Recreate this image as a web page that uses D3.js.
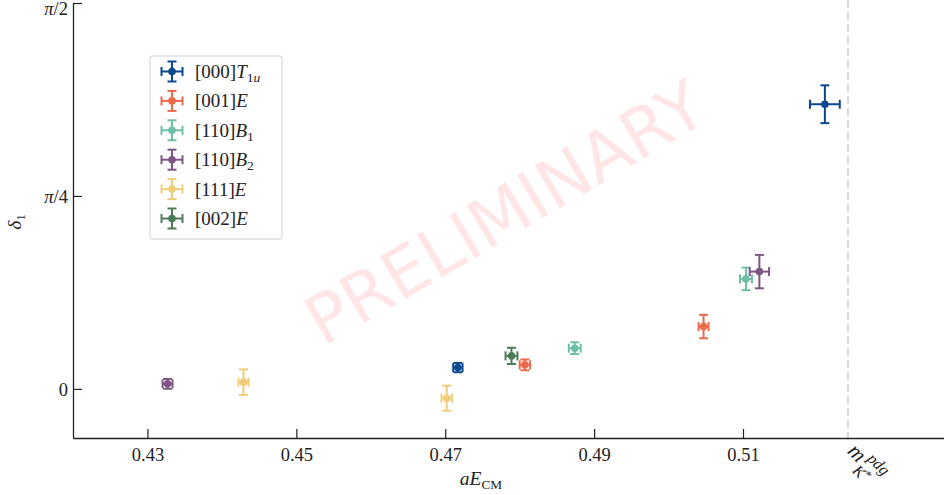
<!DOCTYPE html>
<html><head><meta charset="utf-8">
<script src="https://cdn.jsdelivr.net/npm/d3@7"></script>
<style>
body{margin:0;background:#fff;}
svg{display:block;font-family:"Liberation Serif","DejaVu Serif",serif;}
</style></head>
<body>
<svg id="c" width="944" height="495"></svg>
<script>
// ---- data ----
const seriesIrrep = ["[000]", "[001]", "[110]", "[110]", "[111]", "[002]"];
const seriesSym = [["T", "1", "u"], ["E", "", ""], ["B", "1", ""], ["B", "2", ""], ["E", "", ""], ["E", "", ""]];
const seriesColors = ["#0b4890", "#ec6a4c", "#6fbea7", "#7e5684", "#f0cd7a", "#4c7c56"];
const aE = [[0.5210, 0.4717], [0.5047, 0.4807], [0.5104, 0.4874], [0.5122, 0.4327], [0.4429, 0.4702], [0.4789]];
const aEerr = [[0.0020, 0.00063], [0.00067, 0.0007], [0.0008, 0.0008], [0.0013, 0.00067], [0.00067, 0.0007], [0.0008]];
const delta = [[1.1587, 0.0867], [0.2536, 0.0977], [0.4477, 0.1656], [0.4774, 0.0204], [0.0273, -0.0379], [0.1343]];
const deltaErr = [[0.077, 0.019], [0.0476, 0.022], [0.046, 0.024], [0.068, 0.02], [0.052, 0.051], [0.033]];
const xTicks = [0.43, 0.45, 0.47, 0.49, 0.51];
const yTicks = [0, Math.PI / 4, Math.PI / 2];
const yTickLabels = [["", "0"], ["π", "/4"], ["π", "/2"]];
const mKpdg = 0.5241;

// ---- layout ----
const svg = d3.select("#c");
const x = d3.scaleLinear().domain([0.42, 0.537]).range([73, 944]);
const y = d3.scaleLinear().domain([-0.2, Math.PI / 2]).range([438, 3]);
const axisColor = "#222";
const fs = 18.5;

// watermark
svg.append("text")
  .attr("transform", "translate(505,213) rotate(-30.5)")
  .attr("text-anchor", "middle").attr("dominant-baseline", "central")
  .style("font-family", "'DejaVu Sans',sans-serif").style("font-size", "68px")
  .attr("fill", "red").attr("fill-opacity", 0.1)
  .text("PRELIMINARY");

// dashed reference line
svg.append("line")
  .attr("x1", x(mKpdg)).attr("x2", x(mKpdg))
  .attr("y1", y.range()[1] - 3).attr("y2", y.range()[0])
  .attr("stroke", "#d9d9d9").attr("stroke-width", 2.2).attr("stroke-dasharray", "8,4");

// axes
const xAxis = d3.axisBottom(x).tickValues(xTicks).tickSizeInner(-9).tickSizeOuter(0).tickPadding(10)
  .tickFormat(d3.format(".2f"));
const gx = svg.append("g").attr("transform", `translate(0,${y.range()[0]})`).call(xAxis);
gx.select(".domain").attr("stroke", axisColor).attr("stroke-width", 1.3);
gx.selectAll(".tick line").attr("stroke", axisColor).attr("stroke-width", 1.2);
gx.selectAll(".tick text").style("font-family", "'Liberation Serif',serif").style("font-size", fs + "px").attr("fill", "#222");

const yAxis = d3.axisLeft(y).tickValues(yTicks).tickSizeInner(-9).tickSizeOuter(0).tickPadding(6).tickFormat(() => "");
const gy = svg.append("g").attr("transform", `translate(${x.range()[0]},0)`).call(yAxis);
gy.select(".domain").attr("stroke", axisColor).attr("stroke-width", 1.3);
gy.selectAll(".tick line").attr("stroke", axisColor).attr("stroke-width", 1.2);
gy.selectAll(".tick text").each(function (d, i) {
  const t = d3.select(this).attr("x", -5).attr("dy", i === 2 ? "0.62em" : "0.34em")
    .style("font-family", "'Liberation Serif',serif").style("font-size", fs + "px").attr("fill", "#222");
  t.text(null);
  const lab = yTickLabels[i];
  if (lab[0]) t.append("tspan").style("font-style", "italic").text(lab[0]);
  t.append("tspan").text(lab[1]);
});

// axis labels
const xl = svg.append("text").attr("x", 481).attr("y", 485).attr("text-anchor", "middle")
  .style("font-size", (fs + 1) + "px").attr("fill", "#222");
xl.append("tspan").style("font-style", "italic").text("aE");
xl.append("tspan").attr("dy", 4).style("font-size", (fs * 0.72) + "px").text("CM");

const yl = svg.append("text").attr("transform", "translate(21,222) rotate(-90)").attr("text-anchor", "middle")
  .style("font-size", (fs + 1) + "px").attr("fill", "#222");
yl.append("tspan").style("font-style", "italic").text("δ");
yl.append("tspan").attr("dy", 4).style("font-size", (fs * 0.72) + "px").text("1");

// m_K*^pdg label
const ml = svg.append("g").attr("transform", `translate(${x(mKpdg) + 5},446) rotate(45)`).attr("fill", "#222");
ml.append("text").attr("x", 0).attr("y", 9).style("font-style", "italic").style("font-size", "22px").text("m");
ml.append("text").attr("x", 19).attr("y", 0).style("font-style", "italic").style("font-size", "16px").text("pdg");
const ks = ml.append("text").attr("x", 17).attr("y", 19).style("font-style", "italic").style("font-size", "16px");
ks.append("tspan").text("K");
ks.append("tspan").attr("dy", -5).style("font-style", "normal").style("font-size", "12px").text("*");

// error bars
function errGlyph(g, cx, cy, xl0, xr0, yt0, yb0, color, cap) {
  g.append("line").attr("x1", xl0).attr("x2", xr0).attr("y1", cy).attr("y2", cy);
  g.append("line").attr("x1", cx).attr("x2", cx).attr("y1", yt0).attr("y2", yb0);
  g.append("line").attr("x1", xl0).attr("x2", xl0).attr("y1", cy - cap).attr("y2", cy + cap);
  g.append("line").attr("x1", xr0).attr("x2", xr0).attr("y1", cy - cap).attr("y2", cy + cap);
  g.append("line").attr("x1", cx - cap).attr("x2", cx + cap).attr("y1", yt0).attr("y2", yt0);
  g.append("line").attr("x1", cx - cap).attr("x2", cx + cap).attr("y1", yb0).attr("y2", yb0);
  g.selectAll("line").attr("stroke", color).attr("stroke-width", 2);
  g.append("circle").attr("cx", cx).attr("cy", cy).attr("r", 3.8).attr("fill", color);
}
const pts = svg.append("g");
seriesColors.forEach((col, s) => {
  aE[s].forEach((xv, k) => {
    const g = pts.append("g");
    errGlyph(g, x(xv), y(delta[s][k]), x(xv - aEerr[s][k]), x(xv + aEerr[s][k]),
      y(delta[s][k] + deltaErr[s][k]), y(delta[s][k] - deltaErr[s][k]), col, 4.5);
  });
});

// legend
const lg = svg.append("g");
lg.append("rect").attr("x", 150).attr("y", 56).attr("width", 132).attr("height", 183).attr("rx", 2)
  .attr("fill", "#fff").attr("fill-opacity", 0.8).attr("stroke", "#d0d0d0").attr("stroke-width", 1);
seriesColors.forEach((col, i) => {
  const cy = 71.5 + i * 29.4;
  const g = lg.append("g");
  errGlyph(g, 172, cy, 161.5, 182.5, cy - 10, cy + 10, col, 4.5);
  const t = lg.append("text").attr("x", 195).attr("y", cy + 6.5).style("font-size", "19px").attr("fill", "#222");
  t.append("tspan").text(seriesIrrep[i]);
  t.append("tspan").style("font-style", "italic").text(seriesSym[i][0]);
  if (seriesSym[i][1] || seriesSym[i][2]) {
    const sub = t.append("tspan").attr("dy", 4).style("font-size", "13.5px");
    sub.append("tspan").text(seriesSym[i][1]);
    if (seriesSym[i][2]) sub.append("tspan").style("font-style", "italic").text(seriesSym[i][2]);
  }
});
</script>
</body></html>
